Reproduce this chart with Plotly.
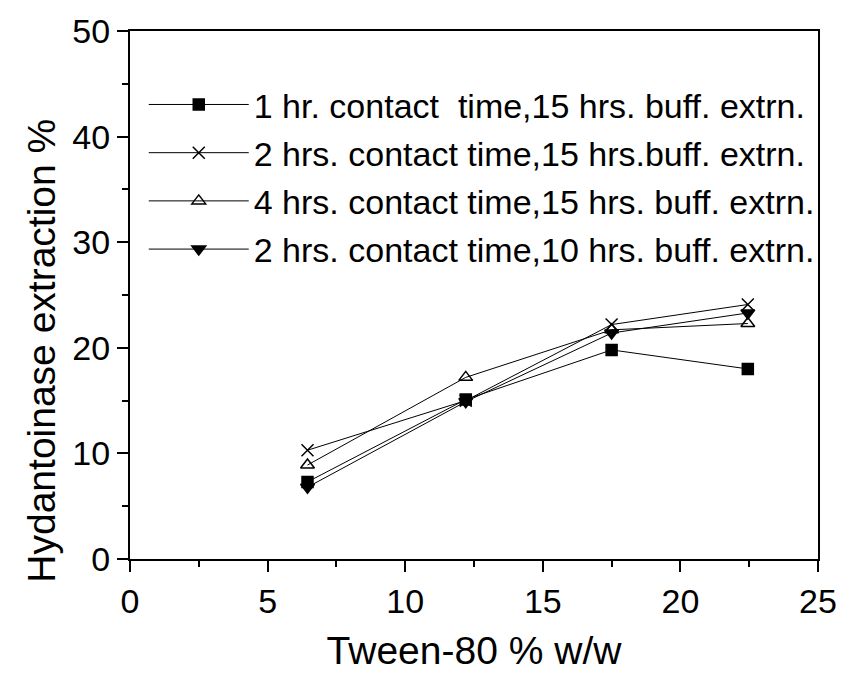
import plotly.graph_objects as go

tween = [6.45, 12.2, 17.5, 22.45]
series_names = [
    "1 hr. contact  time,15 hrs. buff. extrn.",
    "2 hrs. contact time,15 hrs.buff. extrn.",
    "4 hrs. contact time,15 hrs. buff. extrn.",
    "2 hrs. contact time,10 hrs. buff. extrn.",
]
hr1_15 = [7.3, 15.1, 19.8, 18.0]
hr2_15 = [10.3, 15.0, 22.2, 24.1]
hr4_15 = [8.9, 17.2, 21.7, 22.3]
hr2_10 = [6.8, 14.9, 21.4, 23.3]

x_ticks = [0, 5, 10, 15, 20, 25]
y_ticks = [0, 10, 20, 30, 40, 50]

x_title = "Tween-80 % w/w"
y_title = "Hydantoinase extraction %"

series = [hr1_15, hr2_15, hr4_15, hr2_10]
symbols = ["square", "x-thin-open", "triangle-up-open", "triangle-down"]
sizes = [11, 12, 12, 12]

FONT = "Liberation Sans, Arial, sans-serif"

fig = go.Figure()
for i, (name, vals) in enumerate(zip(series_names, series)):
    fig.add_trace(go.Scatter(
        x=tween, y=vals, name=name, mode="lines+markers",
        legendgroup=f"g{i}",
        line=dict(color="black", width=1),
        marker=dict(symbol=symbols[i], size=sizes[i], color="black",
                    line=dict(color="black", width=1.5)),
    ))

axis_common = dict(
    showline=True, linecolor="black", linewidth=2, mirror=True,
    ticks="outside", ticklen=11, tickwidth=2, tickcolor="black",
    showgrid=False, zeroline=False,
    tickfont=dict(family=FONT, size=34, color="black"),
)

fig.update_layout(
    width=849, height=677,
    margin=dict(l=130, r=23, t=27, b=112),
    paper_bgcolor="white", plot_bgcolor="white",
    font=dict(family=FONT, color="black"),
    showlegend=True,
    legend=dict(
        x=0.02, y=0.915, xanchor="left", yanchor="top",
        bgcolor="rgba(0,0,0,0)", borderwidth=0,
        font=dict(family=FONT, size=34, color="black"),
        itemwidth=100, tracegroupgap=1,
    ),
    xaxis=dict(
        range=[0, 25], tickvals=x_ticks, ticktext=[str(v) for v in x_ticks],
        minor=dict(ticks="outside", ticklen=6, tickwidth=2, tickcolor="black", dtick=2.5),
        title=dict(text=x_title, font=dict(family=FONT, size=39, color="black"), standoff=18),
        **axis_common,
    ),
    yaxis=dict(
        range=[0, 50], tickvals=y_ticks, ticktext=[str(v) for v in y_ticks],
        minor=dict(ticks="outside", ticklen=6, tickwidth=2, tickcolor="black", dtick=5),
        **axis_common,
    ),
    annotations=[dict(
        text=y_title, textangle=-90, xref="paper", yref="paper",
        x=-0.129, y=0.395, xanchor="center", yanchor="middle",
        showarrow=False, font=dict(family=FONT, size=39, color="black"),
    )],
)

fig.write_html("out.html")
